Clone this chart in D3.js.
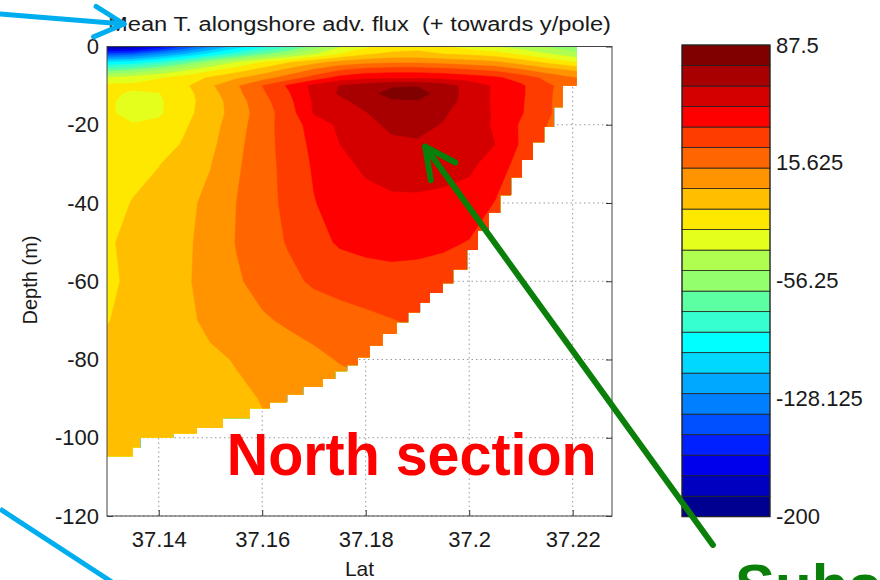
<!DOCTYPE html>
<html lang="en">
<head>
<meta charset="UTF-8">
<title>Mean T. alongshore adv. flux</title>
<script src="https://d3js.org/d3.v7.min.js"></script>
<style>
  body { margin: 0; background: #fff; }
  svg { display: block; font-family: "Liberation Sans", Arial, Helvetica, sans-serif; }
  .tick text { fill: #1a1a1a; }
</style>
</head>
<body>
<svg width="880" height="580"></svg>
<script>
// grid columns (latitude) and rows (depth, m)
const lats = [37.130, 37.135, 37.140, 37.145, 37.150, 37.155, 37.160, 37.165, 37.170, 37.175,
              37.180, 37.185, 37.190, 37.195, 37.200, 37.205, 37.210, 37.215, 37.221];
const depths = [0, -2, -4, -6, -8, -10, -12, -14, -17, -20, -25, -30, -40, -50, -60, -70, -80, -90, -100, -105];

// flux, one row per depth, one value per latitude
const flux = [
  [-195,-190,-172,-150,-128,-108,-92,-78,-58,-40,-28,-21,-18,-24,-32,-38,-45,-52,-60],
  [-145,-140,-126,-112,-96,-80,-64,-52,-38,-24,-14,-9,-8,-12,-14,-18,-26,-36,-46],
  [-100,-96,-85,-70,-52,-38,-25,-14,-4,4,8,10,10,8,5,2,-6,-15,-26],
  [-68,-62,-52,-40,-28,-18,-8,3,14,24,30,32,32,30,26,22,14,5,-3],
  [-36,-32,-26,-19,-11,-2,7,18,30,42,47,48,48,47,44,40,32,22,12],
  [-22,-22,-20,-15,-2,10.7,25,39,53.5,63,68,73,74,68,58,48,39.5,27,18],
  [-22,-27,-25.5,-17,-5,9,23,36,53,64,70,80,81,69,58,48,39.5,27,16],
  [-23.5,-28,-27,-17,-6.8,6.7,20.5,33.7,51.8,59.8,67,73,74,68,57.6,48,39,27,15],
  [-23.5,-28,-27,-16,-6.7,5.5,18.75,31.25,51,56.6,62,69,70,64,56.7,48.6,38.5,27,14],
  [-22,-24.5,-22,-14,-5,7,19.5,31,42.5,52.5,59,65,66,61.8,55.5,48.6,36,25,12],
  [-20,-21,-19,-11,-3,9,20,30,40.5,50,56,60,61,59,56,50,36,25,12],
  [-19,-19,-13,-7,-0.5,10.5,20,29,39,46,53,57,58,56,53,44,33,22,10],
  [-20,-11.5,-7.5,-3,3,12.5,20,28,37,42,45,47,47,46,44,37,30,22,10],
  [-14,-9.5,-6,-2,4,13,19,26,33.5,39,41,42,41,39.5,37,30,25,18,8],
  [-15,-10,-5,-1.5,4,11,16.5,21.6,27,30,32,33,33,32,30,25,20,15,8],
  [-13,-9,-5,-2,2,6.4,11,14.2,16.8,19.4,22,24.5,27,27,25,22,18,14,8],
  [-9,-7,-5,-3,-1.5,0.5,3.5,7,10,13.2,15,17,18,18,17,16,14,12,8],
  [-8,-7,-5.5,-4,-3,-1.5,0.3,3,5,7,9,10,11,11,11,10,10,9,7],
  [-8,-7,-6,-5,-4,-3,-1,1,3,5,7,8,9,9,9,9,9,8,7],
  [-8,-7,-6,-5,-4,-3,-1,1,3,5,7,8,9,9,9,9,9,8,7]
];

// sea floor: depth holds from each latitude to the next one
const floorLat = [37.1300, 37.1350, 37.1364, 37.1428, 37.1474, 37.1524, 37.1576, 37.1615, 37.1648, 37.1679,
                  37.1717, 37.1741, 37.1764, 37.1785, 37.1808, 37.1833, 37.1860, 37.1882, 37.1905, 37.1924,
                  37.1949, 37.1969, 37.1996, 37.2017, 37.2038, 37.2060, 37.2081, 37.2102, 37.2123, 37.2145,
                  37.2164, 37.2181, 37.2208];
const floorDepth = [-104.8, -102.5, -100, -99, -97.5, -95, -92.5, -91, -89, -87,
                    -85, -83, -81.5, -79.5, -76.5, -73.5, -70.5, -68, -65.5, -63,
                    -60.5, -57, -52, -47, -42.5, -38, -33.5, -29, -24.5, -20.5,
                    -15.5, -10, -10];

const xTicks = [37.14, 37.16, 37.18, 37.2, 37.22];
const yTicks = [0, -20, -40, -60, -80, -100, -120];
const levels = d3.range(-200, 87.5, 12.5);
const cbTicks = [87.5, 15.625, -56.25, -128.125, -200];

// jet-like colours, lowest band first
const bandColors = ["#000090","#0000c0","#0000ec","#0020ff","#0050ff","#0080ff","#00a8ff","#00d8ff",
                    "#00ffff","#36ffd0","#5cffa2","#94ff6c","#b0ff50","#e4ff1c","#ffe800","#ffbe00",
                    "#ff9400","#ff6600","#ff3c00","#ff0000","#d40000","#a80000","#800000"];

const svg = d3.select("svg");
const plot = { left: 107, right: 612, top: 46.5, bottom: 516 };

const x = d3.scaleLinear().domain([37.13, 37.2276]).range([plot.left, plot.right]);
const y = d3.scaleLinear().domain([0, -120]).range([plot.top, plot.bottom]);

svg.append("rect").attr("width", 880).attr("height", 580).attr("fill", "#fff");

// dotted grid, under the field
const grid = svg.append("g").attr("stroke", "#9a9a9a").attr("stroke-dasharray", "1.5,3");
grid.selectAll(".gx").data(xTicks).join("line")
    .attr("x1", d => x(d)).attr("x2", d => x(d))
    .attr("y1", plot.top).attr("y2", plot.bottom);
grid.selectAll(".gy").data(yTicks).join("line")
    .attr("x1", plot.left).attr("x2", plot.right)
    .attr("y1", d => y(d)).attr("y2", d => y(d));

// axes, ticks pointing in
const fmt = d => String(d);
svg.append("g").attr("transform", `translate(0,${plot.bottom})`)
    .call(d3.axisBottom(x).tickValues(xTicks).tickSize(-6).tickPadding(15).tickFormat(fmt));
svg.append("g").attr("transform", `translate(${plot.left},0)`)
    .call(d3.axisLeft(y).tickValues(yTicks).tickSize(-6).tickPadding(8).tickFormat(fmt));
svg.append("g").attr("transform", `translate(${plot.right},0)`)
    .call(d3.axisRight(y).tickValues(yTicks).tickSize(-6).tickFormat(""));
svg.append("g").attr("transform", `translate(0,${plot.top})`)
    .call(d3.axisTop(x).tickValues(xTicks).tickSize(-6).tickFormat(""));
svg.selectAll(".domain").remove();
svg.selectAll(".tick line").attr("stroke", "#333");
svg.selectAll(".tick text").attr("font-size", 22);

// sea region (clip)
const floorData = floorLat.map((lat, i) => ({ lat, depth: floorDepth[i] }));
const sea = d3.area().x(d => x(d.lat)).y0(y(0)).y1(d => y(d.depth)).curve(d3.curveStepAfter);
svg.append("clipPath").attr("id", "sea").append("path").attr("d", sea(floorData));

// filled contours
const nx = lats.length, ny = depths.length;
const gLat = d3.scaleLinear().domain(d3.range(nx)).range(lats);
const gDep = d3.scaleLinear().domain(d3.range(ny)).range(depths);
const proj = d3.geoTransform({
  point(px, py) { this.stream.point(x(gLat(px - 0.5)), y(gDep(py - 0.5))); }
});
const path = d3.geoPath(proj);
const bands = d3.contours().size([nx, ny]).thresholds(levels)(flux.flat());
svg.append("g").attr("clip-path", "url(#sea)")
  .selectAll("path").data(bands).join("path")
    .attr("d", path)
    .attr("fill", d => bandColors[levels.indexOf(d.value)])
    .attr("stroke", d => bandColors[levels.indexOf(d.value)])
    .attr("stroke-width", 0.5);

// frame
svg.append("rect")
    .attr("x", plot.left).attr("y", plot.top)
    .attr("width", plot.right - plot.left).attr("height", plot.bottom - plot.top)
    .attr("fill", "none").attr("stroke", "#444").attr("stroke-width", 1);

// titles
svg.append("text")
    .attr("x", (plot.left + plot.right) / 2).attr("y", 31)
    .attr("text-anchor", "middle").attr("font-size", 20)
    .attr("textLength", 503).attr("lengthAdjust", "spacingAndGlyphs")
    .style("white-space", "pre").attr("fill", "#1a1a1a")
    .text("Mean T. alongshore adv. flux  (+ towards y/pole)");
svg.append("text")
    .attr("x", (plot.left + plot.right) / 2).attr("y", 576)
    .attr("text-anchor", "middle").attr("font-size", 21).attr("fill", "#1a1a1a")
    .text("Lat");
svg.append("text")
    .attr("transform", "translate(37,280) rotate(-90)")
    .attr("text-anchor", "middle").attr("font-size", 20).attr("fill", "#1a1a1a")
    .text("Depth (m)");

// colour bar
const cb = { left: 682, right: 770, top: 45, bottom: 516.7 };
const cy = d3.scaleLinear().domain([-200, 87.5]).range([cb.bottom, cb.top]);
svg.append("g").selectAll("rect").data(levels).join("rect")
    .attr("x", cb.left).attr("width", cb.right - cb.left)
    .attr("y", d => cy(d + 12.5)).attr("height", d => cy(d) - cy(d + 12.5))
    .attr("fill", (d, i) => bandColors[i])
    .attr("stroke", "#222").attr("stroke-width", 0.8);
svg.append("rect")
    .attr("x", cb.left).attr("y", cb.top)
    .attr("width", cb.right - cb.left).attr("height", cb.bottom - cb.top)
    .attr("fill", "none").attr("stroke", "#222");
const cbAxis = svg.append("g").attr("transform", `translate(${cb.right},0)`)
    .call(d3.axisRight(cy).tickValues(cbTicks).tickSize(0).tickPadding(6).tickFormat(fmt));
cbAxis.select(".domain").remove();
cbAxis.selectAll("text").attr("font-size", 22).attr("fill", "#1a1a1a");

// annotations
svg.append("text")
    .attr("x", 226.7).attr("y", 475)
    .attr("font-size", 60).attr("font-weight", "bold").attr("fill", "#ff0000")
    .attr("textLength", 370).attr("lengthAdjust", "spacingAndGlyphs")
    .text("North section");
svg.append("text")
    .attr("x", 735).attr("y", 606)
    .attr("font-size", 60).attr("font-weight", "bold").attr("fill", "#0a7f0a")
    .text("Subsurface");

function arrow(x1, y1, x2, y2, color, width, len, spread) {
  const g = svg.append("g").attr("stroke", color).attr("stroke-width", width)
      .attr("stroke-linecap", "round").attr("fill", "none");
  g.append("line").attr("x1", x1).attr("y1", y1).attr("x2", x2).attr("y2", y2);
  const a = Math.atan2(y1 - y2, x1 - x2);
  [-spread, spread].forEach(s => {
    g.append("line").attr("x1", x2).attr("y1", y2)
        .attr("x2", x2 + len * Math.cos(a + s)).attr("y2", y2 + len * Math.sin(a + s));
  });
}
// green arrow points at the flux core
arrow(x(37.2471), y(-127.4), x(37.1915), y(-25.6), "#0a7f0a", 6, 34, 0.46);
// blue arrows from outside the panel
arrow(0, 14, 124, 24, "#00aeef", 5, 33, 0.48);
svg.append("line").attr("x1", 0).attr("y1", 509).attr("x2", 112).attr("y2", 582)
    .attr("stroke", "#00aeef").attr("stroke-width", 5);
</script>
</body>
</html>
